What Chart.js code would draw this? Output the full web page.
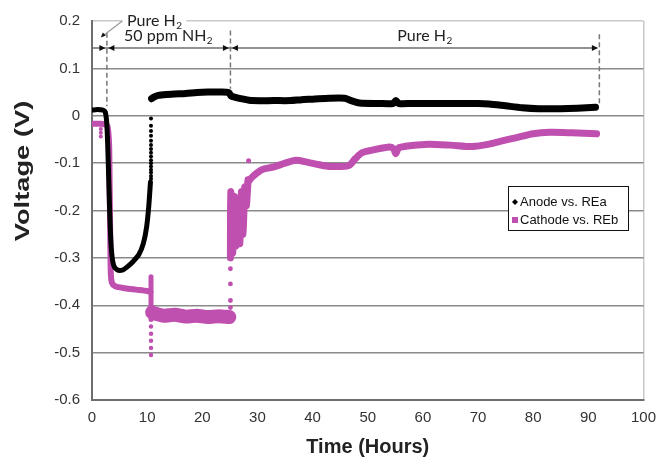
<!DOCTYPE html>
<html>
<head>
<meta charset="utf-8">
<title>Voltage vs time</title>
<script src="https://cdn.jsdelivr.net/npm/chart.js@4.4.1/dist/chart.umd.min.js"></script>
<style>
  html, body { margin:0; padding:0; background:#fff; }
  #wrap { width:665px; height:466px; }
</style>
</head>
<body>
<div id="wrap"><canvas id="chart" width="665" height="466"></canvas></div>
<script>
// axis ticks
const hourTicks = [0,10,20,30,40,50,60,70,80,90,100];
const voltTicks = [0.2,0.1,0,-0.1,-0.2,-0.3,-0.4,-0.5,-0.6];
const seriesNames = ["Anode vs. REa","Cathode vs. REb"];

// anode vs REa (hours, volts)
const anodeDrop = [[0,0.012],[1,0.013],[2,0.012],[2.4,0.008],[2.7,-0.02],[2.95,-0.1],[3.2,-0.2],[3.5,-0.28],
  [3.9,-0.315],[4.5,-0.325],[5.5,-0.326],[6.5,-0.318],[7.5,-0.307],[8.5,-0.293],[9.3,-0.27],[9.9,-0.235],
  [10.3,-0.19],[10.6,-0.14]];
const anodeRecovery = [[10.7,-0.133],[10.7,-0.127],[10.7,-0.12],[10.7,-0.114],[10.7,-0.107],[10.7,-0.1],
  [10.7,-0.094],[10.7,-0.086],[10.7,-0.078],[10.7,-0.07],[10.7,-0.062],[10.7,-0.053],[10.7,-0.042],
  [10.7,-0.032],[10.7,-0.021],[10.7,-0.006]];
const anodeMain = [[10.8,0.036],[11.3,0.04],[12,0.043],[13.5,0.045],[15,0.046],[17,0.047],[19,0.049],[21,0.05],
  [23,0.05],[24.8,0.049],[25.2,0.042],[26,0.039],[27.5,0.035],[29,0.032],[33,0.032],[36,0.032],[38,0.034],
  [40,0.035],[43,0.037],[45.8,0.037],[47,0.032],[48.5,0.027],[52,0.026],[54.6,0.026],[55.1,0.032],[55.6,0.026],
  [58,0.026],[62,0.026],[66,0.026],[70,0.026],[72,0.025],[75,0.021],[78,0.017],[81,0.015],[85,0.015],
  [88,0.016],[91.3,0.018]];

// cathode vs REb (hours, volts)
const cathodeDrop = [[0,-0.017],[1.5,-0.017],[2.3,-0.018],[2.8,-0.022],[3.1,-0.06],[3.2,-0.15],[3.3,-0.25],
  [3.4,-0.33],[3.6,-0.352],[4.2,-0.36],[6,-0.364],[8,-0.367],[10,-0.37],[10.6,-0.372]];
const cathodeEarlyDots = [[1.6,-0.028],[1.6,-0.036],[1.6,-0.044]];
const cathodeStep = [[10.7,-0.34],[10.7,-0.43]];
const cathodeStepDots = [[10.7,-0.445],[10.7,-0.46],[10.7,-0.475],[10.7,-0.49],[10.7,-0.505]];
const cathodeNH3 = [[10.9,-0.415],[11.5,-0.418],[13,-0.422],[15,-0.42],[17,-0.424],[19,-0.422],[21,-0.425],
  [23,-0.423],[24.9,-0.425]];
const cathodeRiseDots = [[25.1,-0.405],[25.1,-0.39],[25.1,-0.355],[25.1,-0.323]];
const cathodeSpike = [[25.1,-0.3],[25.15,-0.16],[25.5,-0.29],[25.8,-0.17],[26.1,-0.275],[26.5,-0.205],
  [26.8,-0.27],[27.1,-0.16],[27.4,-0.25],[27.7,-0.15],[28,-0.19],[28.3,-0.135]];
const cathodeLate = [[28.3,-0.14],[29,-0.13],[30,-0.12],[31,-0.113],[33,-0.108],[35,-0.1],[37,-0.094],
  [39,-0.098],[41,-0.103],[43,-0.107],[45,-0.107],[46.6,-0.105],[47.8,-0.09],[49,-0.078],[51,-0.072],
  [54,-0.066],[54.7,-0.07],[55.1,-0.08],[55.6,-0.068],[58,-0.063],[61,-0.06],[65,-0.062],[69,-0.065],
  [72,-0.06],[74,-0.054],[77,-0.046],[80,-0.038],[83,-0.035],[87,-0.036],[91.5,-0.038]];
const cathodeStray = [[28.4,-0.095]];

// gas phases
const phaseEdges = [2.7, 25.1, 92];
const phaseArrowLevel = 0.143;
const phaseNames = [["Pure H","2"],["50 ppm NH","2"],["Pure H","2"]];

const BLACK = "#000000";
const PINK = "#c050b0";

const pts = arr => arr.map(([x,y])=>({x,y}));

function lineSet(arr, color, width){
  return { data: pts(arr), borderColor: color, backgroundColor: color, borderWidth: width,
    pointRadius: 0, showLine: true, tension: 0.25, borderCapStyle: "round", borderJoinStyle: "round" };
}
function dotSet(arr, color, r){
  return { data: pts(arr), borderColor: color, backgroundColor: color, pointRadius: r,
    pointBorderWidth: 0, showLine: false };
}

function drawParts(ctx, parts, x, y, size){
  // parts: [text, subscript]
  ctx.font = size + "px Lato";
  const w1 = ctx.measureText(parts[0]).width;
  ctx.font = Math.round(size*0.65) + "px Lato";
  const w2 = ctx.measureText(parts[1]).width;
  const left = x - (w1+w2)/2;
  ctx.textBaseline = "middle";
  ctx.textAlign = "left";
  ctx.font = size + "px Lato";
  ctx.fillText(parts[0], left, y);
  ctx.font = Math.round(size*0.65) + "px Lato";
  ctx.fillText(parts[1], left + w1 + 0.5, y + size*0.3);
  return w1 + w2;
}

function tri(ctx, px, py, dir){
  ctx.beginPath();
  ctx.moveTo(px, py);
  ctx.lineTo(px - 6*dir, py - 3);
  ctx.lineTo(px - 6*dir, py + 3);
  ctx.closePath();
  ctx.fill();
}

const phasePlugin = {
  id: "phases",
  beforeDraw(chart){
    const c = chart.ctx;
    c.save(); c.fillStyle = "#fff"; c.fillRect(0,0,chart.width,chart.height); c.restore();
  },
  afterDatasetsDraw(chart){
    const { ctx, scales:{ x, y } } = chart;
    ctx.save();
    const ay = y.getPixelForValue(phaseArrowLevel);
    // arrow line
    ctx.strokeStyle = "#6e6e6e"; ctx.lineWidth = 1.5;
    ctx.beginPath(); ctx.moveTo(x.getPixelForValue(0), ay); ctx.lineTo(x.getPixelForValue(phaseEdges[2]) - 2, ay); ctx.stroke();
    // dashed phase edges
    const tops = [0.175, 0.18, 0.172];
    const bottoms = [0.02, 0.057, 0.022];
    ctx.setLineDash([5,3]);
    ctx.strokeStyle = "#777";
    phaseEdges.forEach((h,i)=>{
      const px = x.getPixelForValue(h);
      ctx.beginPath(); ctx.moveTo(px, y.getPixelForValue(tops[i])); ctx.lineTo(px, y.getPixelForValue(bottoms[i])); ctx.stroke();
    });
    ctx.setLineDash([]);
    // arrowheads
    ctx.fillStyle = "#111";
    phaseEdges.forEach((h,i)=>{
      const px = x.getPixelForValue(h);
      tri(ctx, px - 1.5, ay, 1);
      if(i < phaseEdges.length-1) tri(ctx, px + 1.5, ay, -1);
    });
    // first label sits on the top grid line with a leader
    const topY = y.getPixelForValue(0.2);
    ctx.fillStyle = "#fff";
    ctx.fillRect(x.getPixelForValue(5.5), topY - 9, x.getPixelForValue(17.1) - x.getPixelForValue(5.5), 18);
    ctx.strokeStyle = "#9a9a9a"; ctx.lineWidth = 1.2;
    ctx.beginPath();
    ctx.moveTo(x.getPixelForValue(5.5), topY);
    ctx.lineTo(x.getPixelForValue(1.9), y.getPixelForValue(0.168));
    ctx.stroke();
    ctx.fillStyle = "#111";
    ctx.beginPath();
    const lx = x.getPixelForValue(1.6), ly = y.getPixelForValue(0.165);
    ctx.moveTo(lx, ly); ctx.lineTo(lx + 5, ly - 2); ctx.lineTo(lx + 2, ly - 5); ctx.closePath(); ctx.fill();
    ctx.fillStyle = "#222";
    drawParts(ctx, phaseNames[0], x.getPixelForValue(11.3), topY, 16);
    drawParts(ctx, phaseNames[1], x.getPixelForValue(13.8), y.getPixelForValue(0.168), 16);
    drawParts(ctx, phaseNames[2], x.getPixelForValue(60.3), y.getPixelForValue(0.168), 16);
    ctx.restore();
  },
  afterDraw(chart){
    const ctx = chart.ctx;
    // y axis title, drawn by hand: it sits above the axis middle and is wider set
    ctx.save();
    ctx.translate(23, 171);
    ctx.rotate(-Math.PI/2);
    ctx.scale(1.3, 1);
    ctx.font = "bold 21px 'Liberation Sans'";
    ctx.fillStyle = "#222"; ctx.textAlign = "center"; ctx.textBaseline = "middle";
    ctx.fillText("Voltage (V)", 0, 0);
    ctx.restore();

    // legend box inside the plot
    const bx = 508, by = 186, bw = 120, bh = 44;
    ctx.save();
    ctx.fillStyle = "#fff"; ctx.fillRect(bx, by, bw, bh);
    ctx.strokeStyle = "#111"; ctx.lineWidth = 1; ctx.strokeRect(bx+0.5, by+0.5, bw, bh);
    ctx.font = "13px 'Liberation Sans'"; ctx.textBaseline = "middle"; ctx.textAlign = "left";
    ctx.fillStyle = BLACK;
    ctx.beginPath(); ctx.moveTo(515, 199); ctx.lineTo(518, 202); ctx.lineTo(515, 205); ctx.lineTo(512, 202); ctx.closePath(); ctx.fill();
    ctx.fillStyle = "#111"; ctx.fillText(seriesNames[0], 520, 202);
    ctx.fillStyle = PINK; ctx.fillRect(512, 217, 6, 6);
    ctx.fillStyle = "#111"; ctx.fillText(seriesNames[1], 520, 220);
    ctx.restore();
  }
};

const near = (a,b)=>Math.abs(a-b) < 1e-6;

new Chart(document.getElementById("chart"), {
  type: "scatter",
  data: {
    datasets: [
      lineSet(anodeDrop, BLACK, 5),
      dotSet(anodeRecovery, BLACK, 2),
      lineSet(anodeMain, BLACK, 7),
      lineSet(cathodeDrop, PINK, 6),
      dotSet(cathodeEarlyDots, PINK, 2),
      lineSet(cathodeStep, PINK, 5),
      dotSet(cathodeStepDots, PINK, 2.2),
      lineSet(cathodeNH3, PINK, 14),
      dotSet(cathodeRiseDots, PINK, 2.4),
      lineSet(cathodeSpike, PINK, 7),
      lineSet(cathodeLate, PINK, 7),
      dotSet(cathodeStray, PINK, 2.5)
    ]
  },
  options: {
    responsive: false,
    animation: false,
    layout: { padding: { top: 20, right: 13, left: 0, bottom: 0 } },
    plugins: { legend: { display: false }, tooltip: { enabled: false } },
    scales: {
      x: {
        type: "linear", min: 0, max: 100,
        afterBuildTicks: s => { s.ticks = hourTicks.map(v=>({value:v})); },
        afterFit: s => { s.height = 66; },
        grid: { drawTicks: false, lineWidth: 1.5,
          color: c => (c.tick && c.tick.value === 100) ? "#c8c8c8" : "rgba(0,0,0,0)" },
        border: { display: true, color: "#6e6e6e", width: 2 },
        ticks: { padding: 9, color: "#333", font: { family: "'Liberation Sans'", size: 15 } },
        title: { display: true, text: "Time (Hours)", color: "#222",
          font: { family: "'Liberation Sans'", size: 20, weight: "bold" }, padding: { top: 0, bottom: 7 } }
      },
      y: {
        type: "linear", min: -0.6, max: 0.2,
        afterBuildTicks: s => { s.ticks = voltTicks.map(v=>({value:v})); },
        afterFit: s => { s.width = 92; },
        grid: { drawTicks: false, lineWidth: 1.5,
          color: c => {
            const v = c.tick ? c.tick.value : 0;
            if(near(v,0.2)) return "#c8c8c8";
            if(near(v,-0.6)) return "rgba(0,0,0,0)";
            return "#8a8a8a";
          } },
        border: { display: true, color: "#6e6e6e", width: 2 },
        ticks: { padding: 12, color: "#333", font: { family: "'Liberation Sans'", size: 15 },
          callback: v => near(v,0) ? "0" : Number(v).toFixed(1) },
        title: { display: false }
      }
    }
  },
  plugins: [phasePlugin]
});
</script>
</body>
</html>
